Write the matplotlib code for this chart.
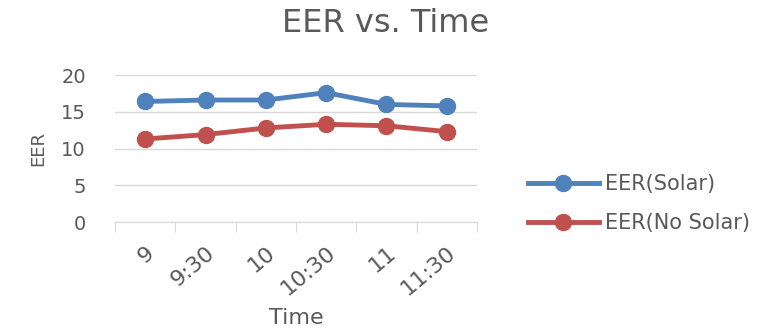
import numpy as np
import matplotlib.pyplot as plt

times = ["9", "9:30", "10", "10:30", "11", "11:30"]
eer_solar = [16.4, 16.6, 16.6, 17.6, 16.0, 15.8]
eer_no_solar = [11.3, 11.9, 12.8, 13.3, 13.1, 12.3]

TEXT = "#595959"
plt.rcParams["font.family"] = ["DejaVu Sans"]


def main():
    fig = plt.figure(figsize=(7.78, 3.29), dpi=100)
    ax = fig.add_axes([0.148, 0.325, 0.465, 0.447])

    x = np.arange(len(times))
    ax.plot(x, eer_solar, color="#4F81BD", lw=3.5, marker="o", ms=11.5,
            label="EER(Solar)")
    ax.plot(x, eer_no_solar, color="#C0504D", lw=3.5, marker="o", ms=11.5,
            label="EER(No Solar)")

    ax.set_xlim(-0.5, len(times) - 0.5)
    ax.set_ylim(0, 20)
    ax.set_yticks([0, 5, 10, 15, 20])
    ax.yaxis.grid(True, color="#D9D9D9", lw=1)
    ax.set_axisbelow(True)
    for s in ["top", "right", "left"]:
        ax.spines[s].set_visible(False)
    ax.spines["bottom"].set_color("#D9D9D9")

    # category boundaries get the tick marks, labels sit at the centres
    ax.set_xticks(np.arange(len(times) + 1) - 0.5, minor=False)
    ax.set_xticklabels([])
    ax.tick_params(axis="x", which="major", length=7, color="#D9D9D9")
    ax.set_xticks(x, minor=True)
    ax.set_xticklabels(times, minor=True, rotation=40, ha="right", va="top",
                       rotation_mode="anchor", fontsize=16, color=TEXT)
    ax.tick_params(axis="x", which="minor", length=0, pad=15)
    ax.tick_params(axis="y", length=0, labelsize=14, labelcolor=TEXT, pad=21)

    ax.set_ylabel("EER", fontsize=13, color=TEXT, labelpad=10)
    ax.set_xlabel("Time", fontsize=16, color=TEXT, labelpad=6)
    fig.text(0.496, 0.93, "EER vs. Time", ha="center", va="center",
             fontsize=23, color=TEXT)

    ax.legend(loc="center left", bbox_to_anchor=(0.668, 0.381),
              bbox_transform=fig.transFigure, borderaxespad=0, frameon=False,
              fontsize=15, labelcolor=TEXT, handlelength=3.4,
              labelspacing=0.9, handletextpad=0.3)

    fig.savefig("out.png", dpi=100)


if __name__ == "__main__":
    main()
